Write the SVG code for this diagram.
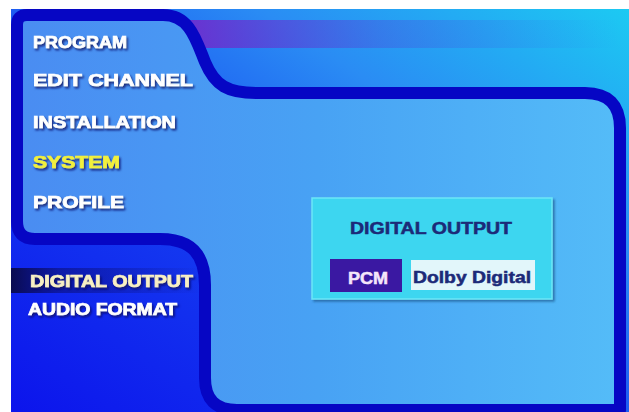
<svg xmlns="http://www.w3.org/2000/svg" width="629" height="412" viewBox="0 0 629 412">
<defs>
<linearGradient id="bg" x1="0" y1="1" x2="1" y2="0">
<stop offset="0" stop-color="#0c14ec"/>
<stop offset="0.35" stop-color="#1438f0"/>
<stop offset="0.7" stop-color="#2a8cf4"/>
<stop offset="1" stop-color="#1ccaf2"/>
</linearGradient>
<linearGradient id="band" x1="0" y1="0" x2="1" y2="0">
<stop offset="0" stop-color="#7a22c8" stop-opacity="0.85"/>
<stop offset="0.45" stop-color="#5040d8" stop-opacity="0.35"/>
<stop offset="1" stop-color="#3060f0" stop-opacity="0"/>
</linearGradient>
<linearGradient id="panel" x1="0" y1="0" x2="1" y2="0">
<stop offset="0" stop-color="#4a8cf2"/>
<stop offset="0.5" stop-color="#48a2f4"/>
<stop offset="1" stop-color="#54bcf8"/>
</linearGradient>
<linearGradient id="sel" x1="0" y1="0" x2="1" y2="0">
<stop offset="0" stop-color="#0a0a48" stop-opacity="0.95"/>
<stop offset="0.25" stop-color="#0a0a60" stop-opacity="0.5"/>
<stop offset="1" stop-color="#0a0a60" stop-opacity="0"/>
</linearGradient>
<filter id="sh" x="-10%" y="-30%" width="120%" height="170%">
<feDropShadow dx="1.5" dy="2" stdDeviation="1.2" flood-color="#0a1060" flood-opacity="0.85"/>
</filter>
<filter id="bsh" x="-5%" y="-5%" width="110%" height="115%">
<feDropShadow dx="2" dy="2" stdDeviation="1" flood-color="#1a5a90" flood-opacity="0.7"/>
</filter>
<style>
.m{font-family:"Liberation Sans",Arial,sans-serif;font-weight:bold;font-size:17px;fill:#ffffff;stroke:#ffffff;stroke-width:0.7px;filter:url(#sh)}
.y{fill:#f2f03c;stroke:#f2f03c}
.c{fill:#f8f0c4;stroke:#f8f0c4}
.d{font-family:"Liberation Sans",Arial,sans-serif;font-weight:bold;font-size:16px;fill:#1c2a78;stroke:#1c2a78;stroke-width:0.5px}
.w{fill:#f4e6fa;stroke:#f4e6fa}
</style>
</defs>
<rect x="0" y="0" width="629" height="412" fill="#ffffff"/>
<g id="background">
<rect x="11" y="9" width="618" height="403" fill="url(#bg)"/>
<rect x="180" y="20" width="440" height="28" fill="url(#band)"/>
</g>
<g id="panel-shape">
<path d="M17,25 Q17,15 27,15 L163,15 C190,15 196,40 205,62 C215,86 228,93 257,93 L585,93 Q620,93 620,128 L620,410 L237,410 Q205,410 205,378 L205,285 C205,255 192,239 160,239 L35,239 Q17,239 17,221 Z" fill="url(#panel)" stroke="#0606c4" stroke-width="12" stroke-linejoin="round"/>
</g>
<g id="menu">
<text class="m" x="33" y="48" textLength="94" lengthAdjust="spacingAndGlyphs">PROGRAM</text>
<text class="m" x="33" y="86" textLength="160" lengthAdjust="spacingAndGlyphs">EDIT CHANNEL</text>
<text class="m" x="33" y="128" textLength="143" lengthAdjust="spacingAndGlyphs">INSTALLATION</text>
<text class="m y" x="33" y="168" textLength="87" lengthAdjust="spacingAndGlyphs">SYSTEM</text>
<text class="m" x="33" y="208" textLength="91" lengthAdjust="spacingAndGlyphs">PROFILE</text>
</g>
<g id="submenu">
<rect x="11" y="268" width="190" height="25" fill="url(#sel)"/>
<text class="m c" x="30" y="287" textLength="163" lengthAdjust="spacingAndGlyphs">DIGITAL OUTPUT</text>
<text class="m" x="28" y="315" textLength="149" lengthAdjust="spacingAndGlyphs">AUDIO FORMAT</text>
</g>
<g id="dialog">
<rect x="312" y="198" width="240" height="101" fill="#3cd6f0" stroke="#6ce6f8" stroke-width="1.5" filter="url(#bsh)"/>
<text class="d" x="350" y="234" textLength="162" lengthAdjust="spacingAndGlyphs">DIGITAL OUTPUT</text>
<g id="pcm">
<rect x="330" y="259" width="72" height="33" fill="#3a18a2"/>
<text class="d w" x="348" y="284" textLength="40" lengthAdjust="spacingAndGlyphs">PCM</text>
</g>
<g id="dolby">
<rect x="411" y="260" width="124" height="30" fill="#e2f6fa"/>
<text class="d" x="413" y="283" textLength="118" lengthAdjust="spacingAndGlyphs">Dolby Digital</text>
</g>
</g>
</svg>
